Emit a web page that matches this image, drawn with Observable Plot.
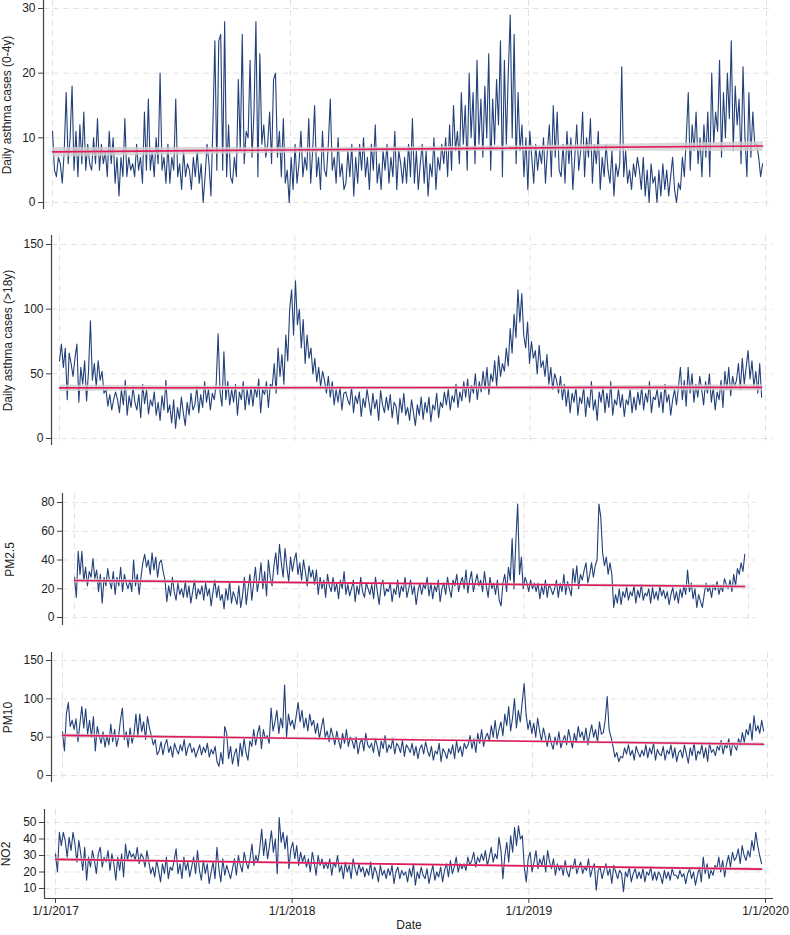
<!DOCTYPE html>
<html><head><meta charset="utf-8">
<script src="https://cdn.jsdelivr.net/npm/d3@7"></script>
<script src="https://cdn.jsdelivr.net/npm/@observablehq/plot@0.6"></script>
<style>
body{margin:0;background:#fff;font-family:"Liberation Sans",Arial,sans-serif;}
#wrap{position:relative;width:790px;height:935px;overflow:hidden;}
#wrap svg{position:absolute;left:0;}
</style></head><body><div id="wrap"></div>
<script>
// ---- data: one value every 3 days starting 1 Jan 2017 ----
const startDate = "2017-01-01";
const stepDays = 3;
const yearTicks = ["2017-01-01","2018-01-01","2019-01-01","2020-01-01"];
const yearTickLabels = ["1/1/2017","1/1/2018","1/1/2019","1/1/2020"];

const asthma04 = [
11,5,4,7,6,3,8,17,6,10,
18,5,11,4,12,6,14,5,9,6,
5,10,6,13,5,9,6,8,4,11,
6,10,3,7,1,7,4,13,4,7,
5,6,4,9,5,7,3,14,5,16,
5,8,4,10,6,20,5,7,3,9,
3,7,5,16,4,6,2,8,4,6,
5,2,7,4,8,3,6,0,4,9,
6,1,12,25,5,25,26,5,28,4,
12,4,3,7,4,19,8,26,6,11,
10,22,7,14,28,4,23,9,12,7,
9,14,6,19,20,7,11,4,13,3,
5,0,7,2,9,3,6,11,4,7,
5,13,3,8,15,4,7,2,11,5,
4,9,16,5,7,3,10,4,6,2,
3,8,4,9,1,7,3,9,5,10,
4,7,2,9,5,12,3,6,2,8,
5,9,3,7,4,11,2,8,6,3,
7,3,9,4,13,3,8,2,6,9,
3,8,1,6,4,10,2,7,5,9,
6,10,4,12,5,15,8,11,6,17,
9,15,5,20,10,17,6,22,9,16,
7,18,10,23,5,16,9,19,12,25,
4,22,9,20,29,10,26,6,17,8,
12,4,10,2,11,7,3,9,5,8,
6,10,3,8,12,4,15,7,14,5,
4,9,3,11,6,10,2,7,12,5,
8,14,4,10,7,13,3,9,6,11,
2,7,4,9,5,3,8,1,6,4,
6,21,4,8,3,5,2,6,4,7,
5,2,7,1,5,0,6,3,4,0,
5,1,6,2,5,1,4,7,2,0,
3,2,7,4,10,17,5,12,8,14,
6,10,4,12,7,14,4,20,9,14,
11,22,7,17,10,20,13,25,8,18,
12,16,6,21,10,4,17,7,14,9,
9,7,4,6];

const asthma18 = [
60,73,55,70,30,66,58,48,62,73,
28,55,42,60,29,52,91,45,58,40,
60,45,52,35,38,25,34,22,30,36,
30,20,38,26,45,18,33,24,40,28,
22,34,16,42,27,38,19,30,25,36,
18,28,14,33,22,45,20,26,12,30,
8,24,15,32,20,10,28,18,35,22,
26,40,20,34,24,44,28,38,22,35,
30,42,81,36,25,67,30,44,26,38,
28,42,18,36,30,44,22,38,26,40,
25,40,32,46,20,38,34,44,24,42,
40,58,35,70,48,65,42,80,60,100,
115,80,122,88,100,70,92,58,80,62,
70,50,62,44,55,40,52,45,35,48,
32,44,26,38,28,40,22,35,36,30,
26,40,20,33,27,36,17,31,24,38,
28,18,35,23,30,14,37,26,20,32,
22,34,16,28,25,11,31,20,35,18,
24,14,30,20,10,26,18,32,15,28,
20,32,13,26,22,35,16,28,24,36,
26,38,22,33,28,42,24,36,29,44,
32,46,28,41,35,50,30,44,36,52,
38,55,34,50,44,60,40,64,48,58,
52,70,56,85,66,96,78,115,90,112,
80,70,90,58,75,62,68,50,72,55,
60,48,65,42,55,38,50,45,35,48,
30,42,25,38,20,35,28,40,18,32,
27,40,17,32,24,44,22,30,14,36,
28,40,20,35,24,44,18,30,26,38,
24,34,17,30,26,38,20,32,22,36,
26,40,22,35,28,44,20,32,30,38,
24,36,20,42,28,34,18,30,38,26,
40,55,30,45,25,55,35,50,28,42,
32,48,38,26,44,35,50,28,40,22,
36,30,45,24,52,38,55,33,48,40,
45,58,38,62,42,55,68,46,60,40,
52,35,58,32];

const pm25 = [
28,14,46,30,46,25,35,22,32,28,
41,27,33,18,30,10,28,22,34,25,
20,32,16,28,22,35,18,30,24,20,
26,18,40,22,30,16,28,38,44,35,
40,30,45,33,42,28,38,40,32,26,
11,22,15,28,18,12,24,16,20,14,
25,14,22,10,18,26,13,20,16,22,
12,24,15,20,8,18,26,14,22,12,
16,6,20,12,25,10,18,14,9,22,
7,15,28,9,20,30,12,24,35,18,
26,38,20,32,15,40,28,22,36,45,
30,51,38,28,48,35,25,42,32,40,
45,30,38,26,40,32,22,36,28,33,
23,33,16,28,20,26,14,30,22,18,
28,18,24,13,26,20,32,16,23,15,
20,26,11,22,16,28,18,14,24,20,
16,23,13,28,18,9,22,26,15,20,
18,24,11,20,16,26,14,22,18,28,
14,20,26,16,22,9,18,24,16,23,
20,28,15,24,13,22,18,26,11,20,
24,16,28,20,14,26,22,30,18,24,
28,20,33,17,26,32,18,24,30,22,
26,18,32,22,14,28,20,24,16,26,
12,8,24,30,18,35,26,55,20,53,
79,30,42,20,28,24,18,26,20,24,
18,24,13,22,16,26,14,23,20,16,
20,26,14,24,18,30,16,25,20,15,
34,24,36,20,30,26,33,38,24,30,
38,28,36,40,79,70,45,36,42,30,
38,30,7,16,10,20,9,18,14,21,
12,18,15,22,10,19,14,23,12,17,
15,20,10,21,13,18,12,22,15,19,
13,18,9,16,21,12,18,10,20,14,
22,16,33,18,24,13,20,7,16,11,
7,16,24,18,21,14,23,19,25,16,
22,18,27,23,20,26,18,30,22,34,
30,38,32,44];

const pm10 = [
57,32,80,95,64,72,60,74,44,67,
90,62,87,54,72,50,77,32,64,52,
42,57,37,52,40,67,44,60,38,50,
72,88,47,57,37,62,42,54,80,52,
80,57,70,47,77,62,52,40,47,27,
32,44,27,40,47,30,38,24,42,34,
28,40,32,47,26,37,42,30,36,24,
32,40,27,37,30,42,24,34,28,38,
18,12,30,15,64,55,22,38,15,28,
35,12,42,25,48,30,20,45,38,60,
40,55,65,35,60,48,52,42,88,58,
70,85,55,75,62,118,50,80,65,72,
60,78,95,70,85,62,75,58,80,65,
72,55,68,48,62,75,50,58,44,62,
52,40,58,45,35,55,42,60,38,50,
45,35,50,28,42,48,32,55,40,36,
42,30,48,38,25,45,35,52,30,40,
35,48,28,42,38,30,46,25,40,36,
30,42,26,38,22,35,40,28,44,32,
25,38,20,32,28,42,18,35,30,22,
35,28,40,22,45,30,38,25,42,35,
40,52,35,48,30,55,42,60,38,50,
55,45,65,50,72,48,60,70,52,80,
65,90,58,75,100,62,85,70,95,120,
80,60,72,55,68,50,75,58,45,62,
50,38,55,43,34,50,40,57,36,45,
52,40,60,47,36,55,43,64,50,57,
45,62,40,55,66,50,60,43,70,54,
56,73,103,60,50,38,24,30,18,25,
23,36,28,40,26,33,20,38,30,24,
33,26,40,23,36,28,43,20,34,28,
26,38,20,33,28,40,23,36,18,30,
33,23,40,28,16,36,26,43,20,32,
28,40,23,36,18,43,30,34,26,38,
33,46,28,40,36,48,26,43,38,33,
48,40,56,43,60,53,68,46,78,58,
65,55,72,58];

const no2 = [
31,20,44,36,44,39,29,41,33,44,
37,26,39,31,21,35,15,29,23,33,
27,19,31,35,23,29,26,33,21,31,
25,15,29,21,31,17,37,27,33,29,
31,27,35,25,31,29,23,33,26,19,
23,17,27,21,14,25,19,29,16,23,
21,27,34,19,25,16,29,21,26,17,
23,29,19,33,21,15,27,19,25,13,
20,26,16,35,22,14,28,18,24,20,
16,22,28,18,30,24,20,32,26,22,
28,37,24,30,26,34,46,30,40,28,
36,45,32,40,19,53,38,44,34,42,
22,34,38,28,36,24,32,26,30,23,
28,20,32,26,18,30,24,28,22,26,
22,28,18,26,23,30,20,24,16,26,
20,24,16,28,22,18,25,20,23,17,
22,18,26,16,23,20,14,24,18,21,
16,22,18,24,13,20,23,16,21,18,
20,14,22,17,25,12,20,16,23,18,
16,22,13,19,24,15,20,17,23,14,
21,25,17,27,19,23,29,20,25,22,
25,21,29,24,27,32,23,29,26,31,
27,33,24,29,35,26,31,28,41,33,
16,30,38,26,42,32,47,36,48,40,
42,23,14,28,32,20,26,33,22,28,
24,30,20,33,26,22,28,18,25,21,
24,18,27,20,17,24,22,28,19,23,
26,19,23,21,28,17,22,25,9,21,
23,16,21,25,18,22,13,24,20,16,
21,19,8,20,17,23,14,19,22,16,
20,16,22,14,20,18,23,15,20,15,
20,18,13,21,16,20,15,22,18,18,
16,21,17,19,13,19,22,16,20,12,
18,23,14,29,19,25,16,21,18,24,
22,29,20,27,17,25,30,23,32,27,
29,34,25,36,30,27,33,29,39,33,
44,36,30,25];

const panelLabels = ["Daily asthma cases (0-4y)","Daily asthma cases (>18y)","PM2.5","PM10","NO2"];
const panelTicks = [[0,10,20,30],[0,50,100,150],[0,20,40,60,80],[0,50,100,150],[10,20,30,40,50]];
const panelSeries = [asthma04, asthma18, pm25, pm10, no2];

// ---- layout (pixels) ----
const layout = [
  {axisLeft:43, x17:52, x20:766, right:773, top:0,   bottom:209, lo:[0,202], hi:[30,8],   labelX:7},
  {axisLeft:51, x17:59, x20:765, right:773, top:235, bottom:445, lo:[0,438], hi:[150,244], labelX:8},
  {axisLeft:62, x17:74, x20:748, right:755, top:493, bottom:625, lo:[0,617], hi:[80,502], labelX:10},
  {axisLeft:51, x17:62, x20:767, right:773, top:652, bottom:782, lo:[0,775], hi:[150,660], labelX:8},
  {axisLeft:44, x17:55, x20:765, right:773, top:809, bottom:898, lo:[10,888], hi:[50,822], labelX:6}
];

const navy = "#22407a", pink = "#e3195c", gridC = "#e3e3e3", axisC = "#444";
const DAY = 864e5;
const t0 = new Date(startDate + "T00:00:00Z");
const t17 = new Date("2017-01-01T00:00:00Z"), t20 = new Date("2020-01-01T00:00:00Z");
const yearDates = yearTicks.map(s => new Date(s + "T00:00:00Z"));
const wrap = document.getElementById("wrap");

layout.forEach((L, p) => {
  const vals = panelSeries[p];
  const data = vals.map((v, i) => ({date: d3.utcDay.offset(t0, i * stepDays), v}));
  const ppd = (L.x20 - L.x17) / ((t20 - t17) / DAY);
  const xd = [new Date(+t17 - (L.x17 - L.axisLeft) / ppd * DAY), new Date(+t20 + (L.right - L.x20) / ppd * DAY)];
  const k = (L.lo[1] - L.hi[1]) / (L.hi[0] - L.lo[0]);
  const yd = [L.lo[0] - (L.bottom - L.lo[1]) / k, L.hi[0] + (L.hi[1] - L.top) / k];
  const last = p === 4;
  const T = Math.max(0, L.top - 10);
  const mt = L.top - T;
  const mb = last ? 935 - L.bottom : 8;
  const H = L.bottom + mb - T;
  const marks = [
    Plot.gridY(panelTicks[p], {stroke: gridC, strokeOpacity: 1, strokeDasharray: "6,4"}),
    Plot.gridX(yearDates, {stroke: gridC, strokeOpacity: 1, strokeDasharray: "6,4"}),
    Plot.line(data, {x: "date", y: "v", stroke: navy, strokeWidth: 1.1}),
    Plot.linearRegressionY(data, {x: "date", y: "v", ci: 0.8, stroke: pink, strokeWidth: 1.6, fill: "#cfcfcf", fillOpacity: 0.8}),
    Plot.ruleX([xd[0]], {stroke: axisC, strokeWidth: 1.2}),
    Plot.axisY(panelTicks[p], {tickSize: 5, tickPadding: 3, fontSize: 12, label: null, stroke: axisC, color: "#222"}),
    Plot.text([panelLabels[p]], {frameAnchor: "left", textAnchor: "middle", lineAnchor: "middle", rotate: -90, dx: L.labelX - L.axisLeft, fontSize: 12, fill: "#222"})
  ];
  if (last) {
    marks.push(Plot.ruleY([yd[0]], {stroke: axisC, strokeWidth: 1.2}));
    marks.push(Plot.axisX(yearDates, {tickSize: 5, tickPadding: 3, fontSize: 12, label: null, stroke: axisC, color: "#222",
      tickFormat: d => yearTickLabels[yearDates.findIndex(t => +t === +d)]}));
    marks.push(Plot.text(["Date"], {frameAnchor: "bottom", dy: 30, fontSize: 12, fill: "#222"}));
  }
  const svg = Plot.plot({
    width: 790, height: H,
    marginLeft: L.axisLeft, marginRight: 790 - L.right, marginTop: mt, marginBottom: mb,
    x: {type: "utc", domain: xd, axis: null},
    y: {domain: yd, axis: null},
    style: {fontFamily: "'Liberation Sans', Arial, sans-serif", background: "transparent", overflow: "visible"},
    marks
  });
  svg.style.top = T + "px";
  wrap.appendChild(svg);
});
</script>
</body></html>
